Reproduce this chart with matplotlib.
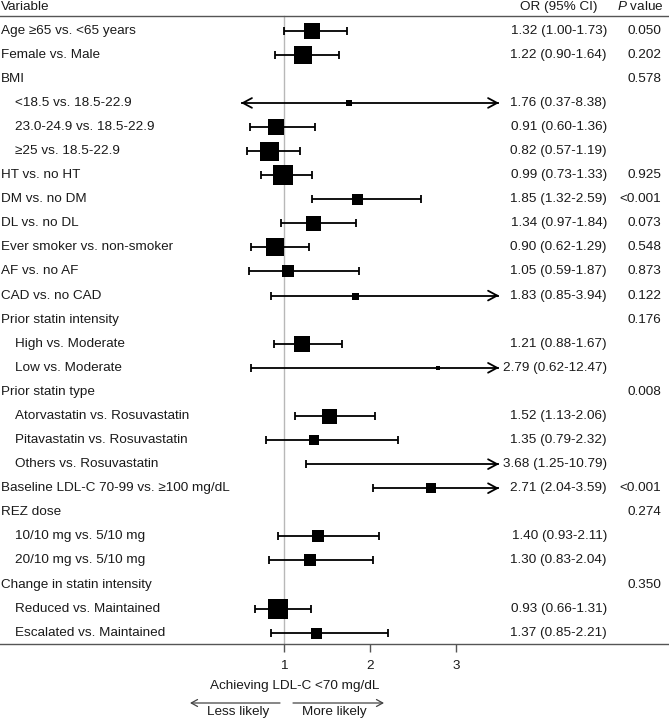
import matplotlib
matplotlib.use("Agg")
import matplotlib.pyplot as plt

plt.rcParams['font.family'] = ['Liberation Sans', 'DejaVu Sans']
plt.rcParams['mathtext.fontset'] = 'custom'
plt.rcParams['mathtext.rm'] = 'Liberation Sans'
plt.rcParams['mathtext.it'] = 'Liberation Sans:italic'

# ---------------- data ----------------
labels = [
    "Age \u226565 vs. <65 years", "Female vs. Male", "BMI",
    "<18.5 vs. 18.5-22.9", "23.0-24.9 vs. 18.5-22.9", "\u226525 vs. 18.5-22.9",
    "HT vs. no HT", "DM vs. no DM", "DL vs. no DL", "Ever smoker vs. non-smoker",
    "AF vs. no AF", "CAD vs. no CAD", "Prior statin intensity",
    "High vs. Moderate", "Low vs. Moderate", "Prior statin type",
    "Atorvastatin vs. Rosuvastatin", "Pitavastatin vs. Rosuvastatin",
    "Others vs. Rosuvastatin", "Baseline LDL-C 70-99 vs. \u2265100 mg/dL",
    "REZ dose", "10/10 mg vs. 5/10 mg", "20/10 mg vs. 5/10 mg",
    "Change in statin intensity", "Reduced vs. Maintained", "Escalated vs. Maintained",
]
indented = [False, False, False, True, True, True, False, False, False, False,
            False, False, False, True, True, False, True, True, True, False,
            False, True, True, False, True, True]
or_vals = [1.32, 1.22, None, 1.76, 0.91, 0.82, 0.99, 1.85, 1.34, 0.90, 1.05, 1.83, None,
           1.21, 2.79, None, 1.52, 1.35, 3.68, 2.71, None, 1.40, 1.30, None, 0.93, 1.37]
ci_low = [1.00, 0.90, None, 0.37, 0.60, 0.57, 0.73, 1.32, 0.97, 0.62, 0.59, 0.85, None,
          0.88, 0.62, None, 1.13, 0.79, 1.25, 2.04, None, 0.93, 0.83, None, 0.66, 0.85]
ci_high = [1.73, 1.64, None, 8.38, 1.36, 1.19, 1.33, 2.59, 1.84, 1.29, 1.87, 3.94, None,
           1.67, 12.47, None, 2.06, 2.32, 10.79, 3.59, None, 2.11, 2.04, None, 1.31, 2.21]
p_values = ["0.050", "0.202", "0.578", "", "", "", "0.925", "<0.001", "0.073", "0.548",
            "0.873", "0.122", "0.176", "", "", "0.008", "", "", "", "<0.001",
            "0.274", "", "", "0.350", "", ""]
# box side (px) per row, proportional to study weight; 0 for heading rows
box_sizes = [16.5, 18, 0, 5.5, 16, 19, 20, 11, 15, 18, 11.5, 7, 0, 16, 5, 0, 15, 10, 6,
             10, 0, 12, 12, 0, 20, 11]
xticks = [1, 2, 3]
xlabel = "Achieving LDL-C <70 mg/dL"
clip_lo, clip_hi = 0.5, 3.5

# ---------------- layout ----------------
W, H = 669, 719
FS = 9.7
TXT = '#1a1a1a'
fig = plt.figure(figsize=(W / 100, H / 100), dpi=100)
ax_bottom = 644
ax = fig.add_axes([0, (H - ax_bottom) / H, 1, ax_bottom / H])
ax.patch.set_visible(False)
x1_px, ppu = 284, 86.0
ax.set_xlim(1 - x1_px / ppu, 1 + (W - x1_px) / ppu)
row0, step = 30.7, 24.08
ax.set_ylim((ax_bottom - row0) / step, -row0 / step)

for s in ['top', 'left', 'right']:
    ax.spines[s].set_visible(False)
ax.spines['bottom'].set_color('#555555')
ax.spines['bottom'].set_linewidth(1.0)
ax.set_xticks(xticks)
ax.set_xticklabels([str(t) for t in xticks])
ax.tick_params(axis='x', length=6, width=1, color='#555555', pad=5.5,
               labelsize=FS, labelcolor=TXT)
ax.set_yticks([])

def py(p):
    return (p - row0) / step

header_line = py(16)
ax.axhline(header_line, color='#555555', lw=1.0)
ax.plot([1, 1], [header_line, (ax_bottom - row0) / step], color='#b8b8b8', lw=1.0, zorder=1)

OR_RIGHT = 607
P_RIGHT = 661
ytr = ax.get_yaxis_transform()
hdr_y = py(7)
ax.text(1 / W, hdr_y, "Variable", transform=ytr, ha='left', va='center', fontsize=FS, color=TXT)
ax.text(598 / W, hdr_y, "OR (95% CI)", transform=ytr, ha='right', va='center', fontsize=FS, color=TXT)
ax.text(663 / W, hdr_y, r"$\mathit{P}$ value", transform=ytr, ha='right', va='center', fontsize=FS, color=TXT)

lw = 1.3
for i, lab in enumerate(labels):
    y = i
    xl = (15 if indented[i] else 1) / W
    ax.text(xl, y, lab, transform=ytr, ha='left', va='center', fontsize=FS, color=TXT)
    if p_values[i]:
        ax.text(P_RIGHT / W, y, p_values[i], transform=ytr, ha='right', va='center', fontsize=FS, color=TXT)
    if or_vals[i] is None:
        continue
    o, lo, hi = or_vals[i], ci_low[i], ci_high[i]
    ax.text(OR_RIGHT / W, y, f"{o:.2f} ({lo:.2f}-{hi:.2f})", transform=ytr, ha='right',
            va='center', fontsize=FS, color=TXT)
    lo_d, hi_d = max(lo, clip_lo), min(hi, clip_hi)
    ax.plot([lo_d, hi_d], [y, y], color='black', lw=lw, solid_capstyle='butt', zorder=2)
    if lo < clip_lo:
        ax.annotate('', xy=(lo_d, y), xytext=(lo_d + 0.05, y),
                    arrowprops=dict(arrowstyle='->,head_length=0.65,head_width=0.35',
                                    lw=lw, color='black', shrinkA=0, shrinkB=0))
    else:
        ax.plot([lo_d], [y], marker='|', ms=5.5, mew=lw, color='black', zorder=2)
    if hi > clip_hi:
        ax.annotate('', xy=(hi_d, y), xytext=(hi_d - 0.05, y),
                    arrowprops=dict(arrowstyle='->,head_length=0.65,head_width=0.35',
                                    lw=lw, color='black', shrinkA=0, shrinkB=0))
    else:
        ax.plot([hi_d], [y], marker='|', ms=5.5, mew=lw, color='black', zorder=2)
    if clip_lo <= o <= clip_hi and box_sizes[i] > 0:
        ax.plot([o], [y], marker='s', ms=box_sizes[i] * 0.72, color='black', mew=0, zorder=3)

# bottom annotations
xtr = ax.get_xaxis_transform()

def fy(p):
    return (ax_bottom - p) / ax_bottom

def dx(p):
    return 1 + (p - x1_px) / ppu

ax.text(dx(295), fy(686), xlabel, transform=xtr, ha='center', va='center', fontsize=FS, color=TXT)
arr = dict(arrowstyle='->,head_length=0.45,head_width=0.25', lw=0.9, color='#444444',
           shrinkA=0, shrinkB=0)
ax.annotate('', xy=(dx(190), fy(703)), xytext=(dx(280), fy(703)), xycoords=xtr,
            textcoords=xtr, arrowprops=arr, annotation_clip=False)
ax.annotate('', xy=(dx(384), fy(703)), xytext=(dx(293), fy(703)), xycoords=xtr,
            textcoords=xtr, arrowprops=arr, annotation_clip=False)
ax.text(dx(238), fy(712), "Less likely", transform=xtr, ha='center', va='center', fontsize=FS, color=TXT)
ax.text(dx(334), fy(712), "More likely", transform=xtr, ha='center', va='center', fontsize=FS, color=TXT)

fig.savefig("out.png", dpi=100)
